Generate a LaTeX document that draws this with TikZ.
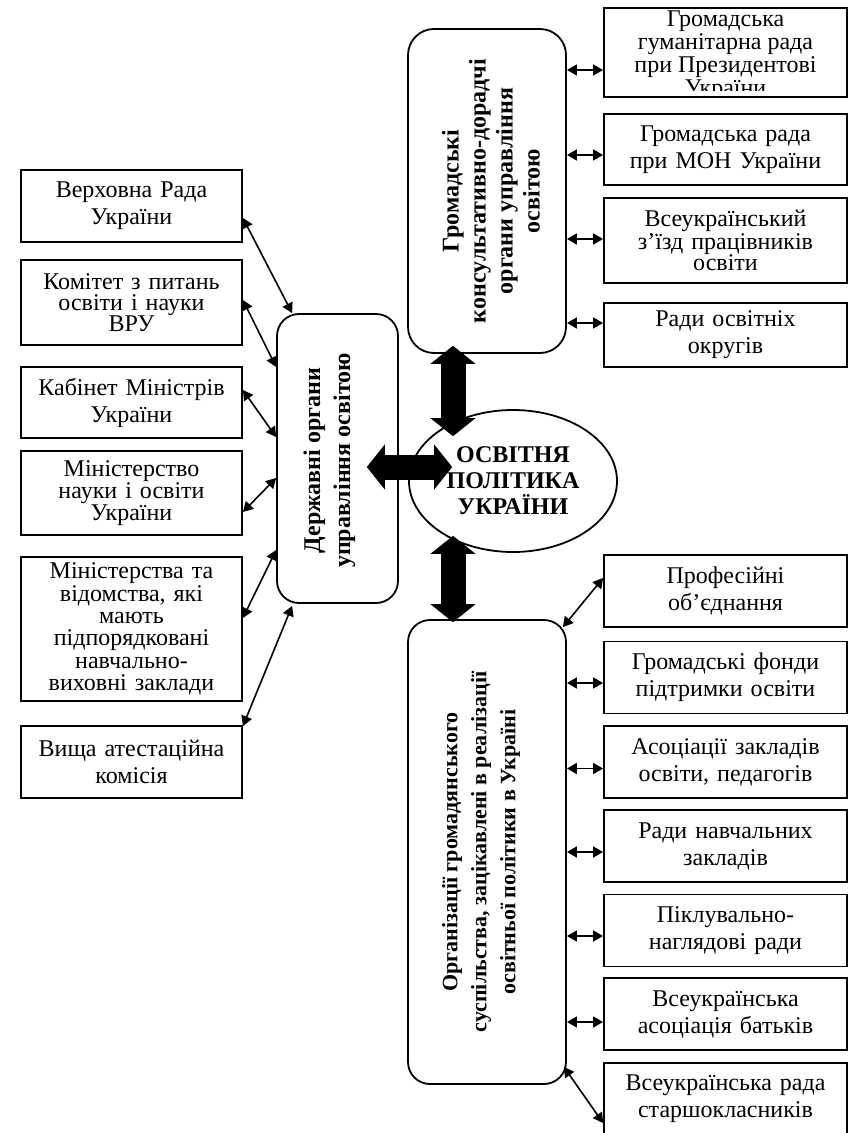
\documentclass[tikz,border=0pt]{standalone}
\usepackage{fontspec}
\setmainfont{Liberation Serif}
\usetikzlibrary{arrows.meta,calc,shapes.geometric}

\tikzset{
  box/.style={draw, line width=0.9pt, minimum width=110.5pt, text width=106pt,
    align=center, inner sep=1pt, font=\fontsize{12}{13.5}\selectfont},
  rbox/.style={box, minimum width=121.5pt, text width=117pt},
  tight/.style={font=\fontsize{12}{10.5}\selectfont},
  orgbox/.style={draw, line width=0.9pt, rounded corners=11pt},
  vtext/.style={rotate=90, align=center, font=\bfseries\fontsize{12}{14}\selectfont},
  biarrow/.style={line width=0.8pt,
    {Triangle[length=5pt,width=5.5pt]}-{Triangle[length=5pt,width=5.5pt]}},
  bigarrow/.style={line width=12.5pt,
    {Triangle[length=9pt,width=22.5pt,line width=0.1pt]}-{Triangle[length=9pt,width=22.5pt,line width=0.1pt]}}
}

\begin{document}
\begin{tikzpicture}[x=0.5pt,y=-0.5pt]

\useasboundingbox (0,0) rectangle (851,1133);

% Left column
\node[box, minimum height=36pt] (vru) at (131.5,206) {Верховна Рада\\України};
\node[box, tight, minimum height=42.5pt] (kom) at (131.5,302.5) {Комітет з питань\\освіти і науки\\ВРУ};
\node[box, minimum height=35.5pt] (kmu) at (131.5,402.5) {Кабінет Міністрів\\України};
\node[box, font=\fontsize{12}{11}\selectfont, minimum height=42pt] (mon) at (131.5,493) {Міністерство\\науки і освіти\\України};
\node[box, font=\fontsize{12}{11.2}\selectfont, minimum height=72pt] (vid) at (131.5,629)
  {Міністерства та\\відомства, які\\мають\\підпорядковані\\навчально-\\виховні заклади};
\node[box, minimum height=36pt] (vak) at (131.5,762) {Вища атестаційна\\комісія};

% State bodies
\node[orgbox, minimum width=60.5pt, minimum height=144.5pt] (dso) at (337.5,458.5) {};
\node[vtext, font=\bfseries\fontsize{12}{15}\selectfont] at ($(dso.center)+(-8,2)$) {Державні органи\\управління освітою};

% Consultative bodies
\node[orgbox, rounded corners=13pt, minimum width=79pt, minimum height=162pt] (tgo) at (487,191) {};
\node[vtext, font=\bfseries\fontsize{12}{13.5}\selectfont] at ($(tgo.center)+(4,0)$)
  {Громадські\\консультативно-дорадчі\\органи управління\\освітою};

% Centre
\node[draw, ellipse, line width=0.9pt, minimum width=104pt, minimum height=71pt, inner sep=0pt,
  align=center, font=\bfseries\fontsize{12}{13}\selectfont] (pol) at (513,481) {ОСВІТНЯ\\ПОЛІТИКА\\УКРАЇНИ};

% Civil society
\node[orgbox, minimum width=79pt, minimum height=232pt] (org) at (487,852) {};
\node[vtext, font=\bfseries\fontsize{11}{14.5}\selectfont] at ($(org.center)+(-6,0)$)
  {Організації громадянського\\суспільства, зацікавлені в реалізації\\освітньої політики в Україні};

% Right column, top
\node[rbox, minimum height=44.5pt] (ghr) at (725.5,52.5) {};
\begin{scope}
  \clip (ghr.north west) rectangle ($(ghr.south east)+(0,-7)$);
  \node[align=center, font=\fontsize{12}{9.5}\selectfont] at ($(ghr.center)+(0,3)$)
    {Громадська\\гуманітарна рада\\при Президентові\\України};
\end{scope}
\node[rbox, minimum height=35.5pt] (grm) at (725.5,149.5) {Громадська рада\\при МОН України};
\node[rbox, tight, minimum height=42.5pt] (zizd) at (725.5,240.5) {Всеукраїнський\\з’їзд працівників\\освіти};
\node[rbox, minimum height=32pt] (rok) at (725.5,335) {Ради освітніх\\округів};

% Right column, bottom
\node[rbox, minimum height=36pt] (prof) at (725.5,591) {Професійні\\об’єднання};
\node[rbox, minimum height=36pt] (fond) at (725.5,677.5) {Громадські фонди\\підтримки освіти};
\node[rbox, minimum height=36pt] (asoc) at (725.5,762) {Асоціації закладів\\освіти, педагогів};
\node[rbox, minimum height=36pt] (rnz) at (725.5,846) {Ради навчальних\\закладів};
\node[rbox, minimum height=36pt] (pnr) at (725.5,930.5) {Піклувально-\\наглядові ради};
\node[rbox, minimum height=36pt] (bat) at (725.5,1014) {Всеукраїнська\\асоціація батьків};
\node[rbox, minimum height=36pt] (star) at (725.5,1099) {Всеукраїнська рада\\старшокласників};

% Thick arrows
\draw[bigarrow] ($(tgo.south)+(-34,-8)$) -- ($(pol.north)+(-60,27)$);
\draw[bigarrow] ($(dso.east)+(-32,8.5)$) -- ($(pol.west)+(44,-14)$);
\draw[bigarrow] ($(pol.south)+(-60,-17)$) -- ($(org.north)+(-34,3)$);

% Left links
\draw[biarrow] ($(vru.east)+(0,12)$) -- ($(dso.north west)+(16,0)$);
\draw[biarrow] ($(kom.east)+(0,-2.5)$) -- ($(dso.west)+(0,-91.5)$);
\draw[biarrow] ($(kmu.east)+(0,-12.5)$) -- ($(dso.west)+(0,-21.5)$);
\draw[biarrow] ($(mon.east)+(0,19)$) -- ($(dso.west)+(0,19.5)$);
\draw[biarrow] ($(vid.east)+(0,-11)$) -- ($(dso.west)+(0,91.5)$);
\draw[biarrow] ($(vak.north east)+(0,1)$) -- ($(dso.south west)+(16,2)$);

% Top right links
\path ($(ghr.west)+(0,17.5)$) coordinate (a1);
\path ($(grm.west)+(0,5.5)$) coordinate (a2);
\path ($(zizd.west)+(0,-1.5)$) coordinate (a3);
\path ($(rok.west)+(0,-12)$) coordinate (a4);
\draw[biarrow] (tgo.east |- a1) -- (a1);
\draw[biarrow] (tgo.east |- a2) -- (a2);
\draw[biarrow] (tgo.east |- a3) -- (a3);
\draw[biarrow] (tgo.east |- a4) -- (a4);

% Bottom right links
\path ($(fond.west)+(0,5.5)$) coordinate (b2);
\path ($(asoc.west)+(0,6.5)$) coordinate (b3);
\path ($(rnz.west)+(0,6)$) coordinate (b4);
\path ($(pnr.west)+(0,5.5)$) coordinate (b5);
\path ($(bat.west)+(0,8)$) coordinate (b6);
\draw[biarrow] ($(org.north east)+(-4,8)$) -- ($(prof.west)+(0,-13)$);
\draw[biarrow] (org.east |- b2) -- (b2);
\draw[biarrow] (org.east |- b3) -- (b3);
\draw[biarrow] (org.east |- b4) -- (b4);
\draw[biarrow] (org.east |- b5) -- (b5);
\draw[biarrow] (org.east |- b6) -- (b6);
\draw[biarrow] ($(org.south east)+(-3,-18)$) -- ($(star.west)+(0,24)$);

\end{tikzpicture}
\end{document}
